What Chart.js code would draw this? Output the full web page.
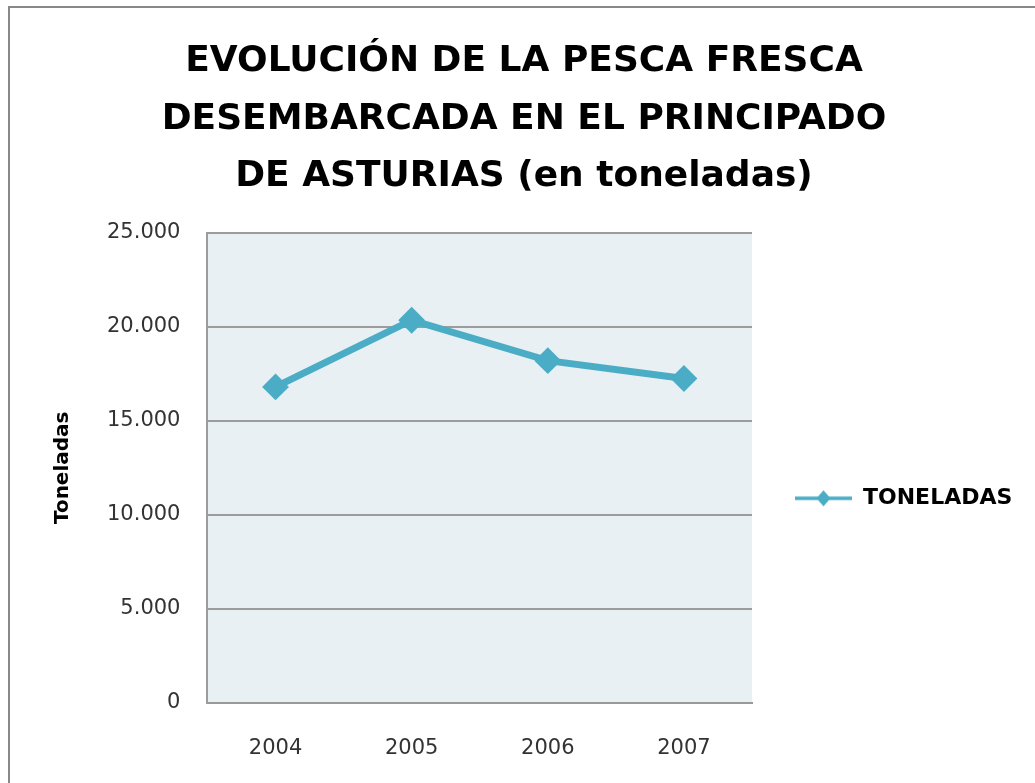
<!DOCTYPE html>
<html>
<head>
<meta charset="utf-8">
<script src="https://cdn.jsdelivr.net/npm/chart.js@4/dist/chart.umd.min.js"></script>
<style>
    html, body { margin: 0; padding: 0; background: #fff; overflow: hidden; }
    #wrap { position: relative; width: 1035px; height: 783px; overflow: hidden; }
    #frame { position: absolute; left: 8px; top: 6px; width: 1100px; height: 900px; border: 2px solid #888; }
    canvas { position: absolute; left: 0; top: 0; }
</style>
</head>
<body>
<div id="wrap">
    <div id="frame"></div>
    <canvas id="chart" width="1035" height="794"></canvas>
</div>
<script>
const years = ['2004', '2005', '2006', '2007'];
const toneladas = [16800, 20350, 18200, 17250];
const yTicks = [0, 5000, 10000, 15000, 20000, 25000];
const seriesName = 'TONELADAS';
const titleLines = ['EVOLUCIÓN DE LA PESCA FRESCA', 'DESEMBARCADA EN EL PRINCIPADO', 'DE ASTURIAS (en toneladas)'];

const lineColor = '#4BACC6';

// thousands with a dot, like the original
function fmt(v) {
    return String(v).replace(/\B(?=(\d{3})+(?!\d))/g, '.');
}

// legend symbol: line with a diamond in the middle
function legendSymbol() {
    const c = document.createElement('canvas');
    c.width = 57;
    c.height = 20;
    const g = c.getContext('2d');
    g.strokeStyle = lineColor;
    g.lineWidth = 3.5;
    g.beginPath();
    g.moveTo(0, 10);
    g.lineTo(57, 10);
    g.stroke();
    g.fillStyle = lineColor;
    g.beginPath();
    g.moveTo(28.5, 2);
    g.lineTo(35.5, 10);
    g.lineTo(28.5, 18);
    g.lineTo(21.5, 10);
    g.closePath();
    g.fill();
    return c;
}

// light plot background
const plotBg = {
    id: 'plotBg',
    beforeDraw(chart) {
        const a = chart.chartArea;
        const ctx = chart.ctx;
        ctx.save();
        ctx.fillStyle = '#E8F0F4';
        ctx.fillRect(a.left, a.top, a.right - a.left, a.bottom - a.top);
        ctx.restore();
    }
};

const symbol = legendSymbol();

new Chart(document.getElementById('chart'), {
    type: 'line',
    data: {
        labels: years,
        datasets: [{
            label: seriesName,
            data: toneladas,
            borderColor: lineColor,
            backgroundColor: lineColor,
            borderWidth: 7,
            pointStyle: 'rectRot',
            pointRadius: 12,
            pointBorderWidth: 2,
            pointBackgroundColor: lineColor,
            pointBorderColor: lineColor,
            tension: 0
        }]
    },
    options: {
        responsive: false,
        animation: false,
        devicePixelRatio: 1,
        layout: { padding: { left: 33, right: 20, top: 0, bottom: 0 } },
        plugins: {
            title: {
                display: true,
                text: titleLines,
                color: '#000',
                font: { family: 'DejaVu Sans', size: 36, weight: 'bold', lineHeight: 1.6 },
                padding: { top: 33, bottom: 27 }
            },
            legend: {
                display: true,
                position: 'right',
                fullSize: false,
                maxWidth: 263,
                title: { display: true, text: '', font: { size: 10, lineHeight: 1.2 }, padding: { top: 0, bottom: 49 } },
                labels: {
                    usePointStyle: true,
                    pointStyleWidth: 57,
                    padding: 43,
                    color: '#000',
                    font: { family: 'DejaVu Sans', size: 22, weight: 'bold' },
                    generateLabels: () => [{
                        text: seriesName,
                        pointStyle: symbol,
                        fillStyle: lineColor,
                        strokeStyle: lineColor,
                        fontColor: '#000',
                        lineWidth: 0,
                        datasetIndex: 0
                    }]
                }
            },
            tooltip: { enabled: false }
        },
        scales: {
            x: {
                offset: true,
                grid: { display: false, drawTicks: false },
                border: { display: true, color: '#999', width: 2 },
                ticks: { color: '#333', padding: 33, font: { family: 'DejaVu Sans', size: 21 } }
            },
            y: {
                min: 0,
                max: 25000,
                afterBuildTicks: (axis) => { axis.ticks = yTicks.map(v => ({ value: v })); },
                grid: { color: '#9c9c9c', lineWidth: 2, drawTicks: false },
                border: { display: true, color: '#9c9c9c', width: 2 },
                ticks: {
                    color: '#333',
                    padding: 27,
                    font: { family: 'DejaVu Sans', size: 21 },
                    callback: (v) => fmt(v)
                },
                title: {
                    display: true,
                    text: 'Toneladas',
                    color: '#000',
                    font: { family: 'DejaVu Sans', size: 20, weight: 'bold', lineHeight: 1.2 },
                    padding: { top: 18, bottom: 5 }
                }
            }
        }
    },
    plugins: [plotBg]
});
</script>
</body>
</html>
